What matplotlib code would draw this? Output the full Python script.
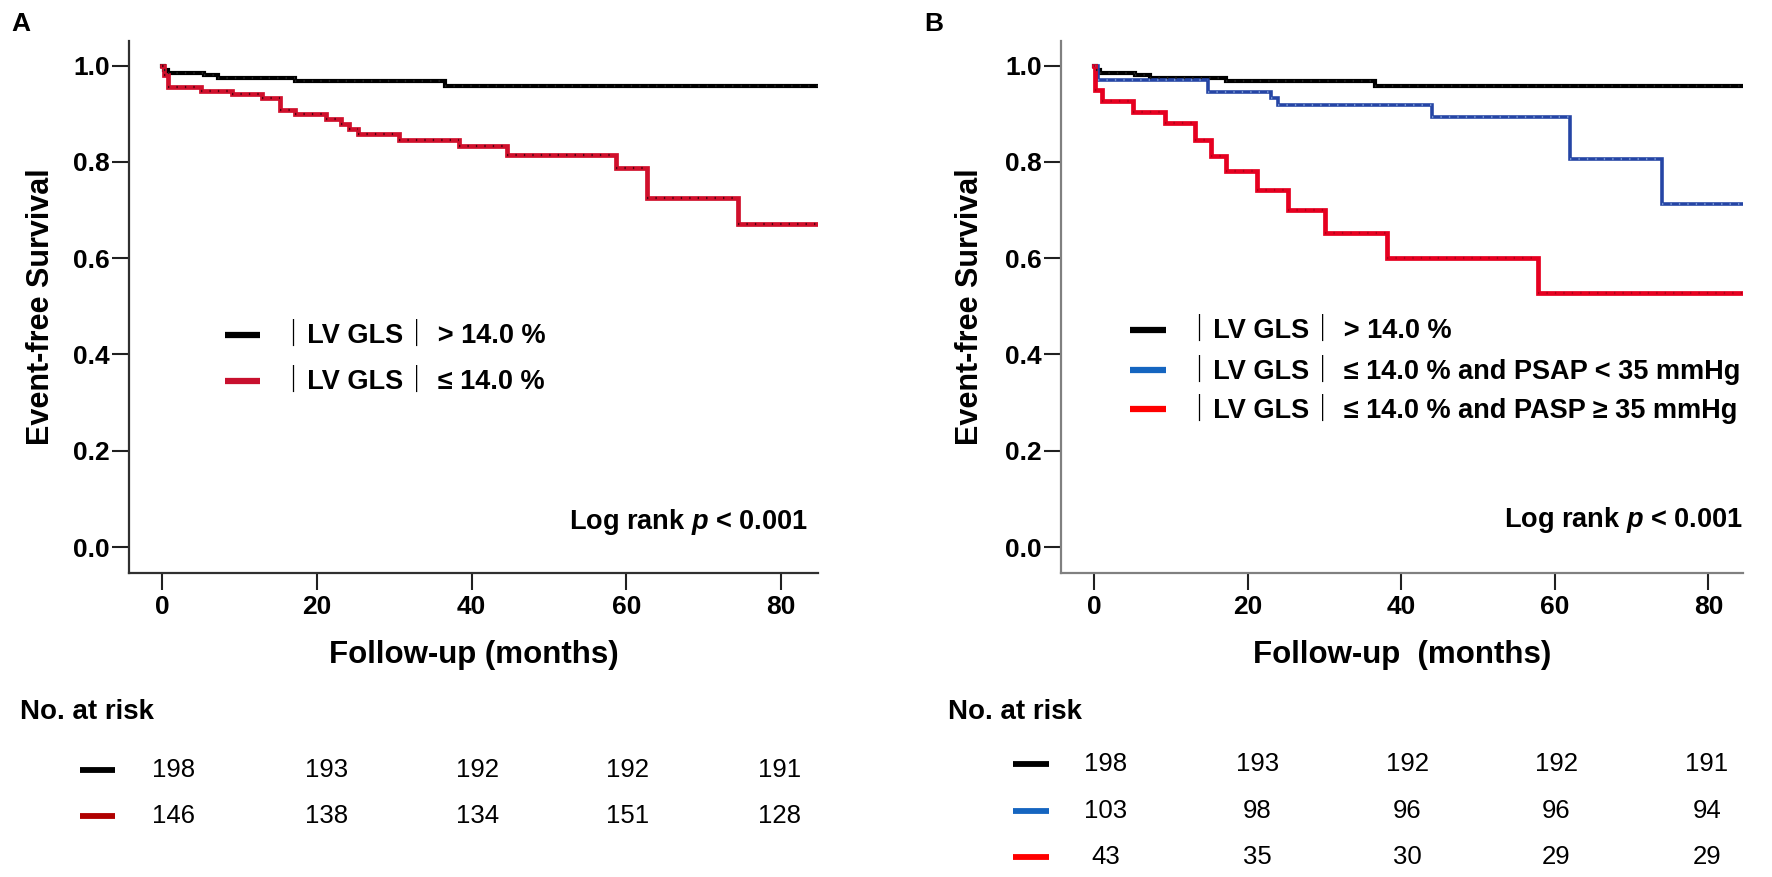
import matplotlib
matplotlib.use("Agg")
import matplotlib.pyplot as plt
from matplotlib import font_manager
from matplotlib.lines import Line2D
import matplotlib.transforms as mtransforms

# ---------------- data ----------------
tick_times = [0, 20, 40, 60, 80]

# Panel A  (months, survival after each step)
black_t = [0, 0.2, 0.8, 5.4, 7.3, 17.2, 36.6]
black_s = [1.0, 0.990, 0.985, 0.981, 0.974, 0.967, 0.958]
redA_t = [0, 0.2, 0.8, 5.1, 9.1, 12.9, 15.3, 17.2, 21.2, 23.1, 24.2, 25.3, 30.6, 38.4, 44.6, 58.7, 62.6, 74.4]
redA_s = [1.0, 0.980, 0.956, 0.948, 0.941, 0.932, 0.908, 0.900, 0.889, 0.879, 0.869, 0.858, 0.846, 0.833, 0.815, 0.788, 0.725, 0.670]
endA = 84.7

# Panel B
blueB_t = [0, 0.5, 14.9, 23.1, 23.9, 44.0, 62.0, 74.0]
blueB_s = [1.0, 0.970, 0.946, 0.932, 0.918, 0.894, 0.805, 0.712]
redB_t = [0, 0.1, 1.0, 5.1, 9.3, 13.2, 15.2, 17.2, 21.2, 25.3, 30.1, 38.1, 57.8]
redB_s = [1.0, 0.949, 0.927, 0.904, 0.880, 0.846, 0.813, 0.781, 0.742, 0.700, 0.652, 0.601, 0.527]
endB = 84.5

riskA = [[198, 193, 192, 192, 191],
         [146, 138, 134, 151, 128]]
riskB = [[198, 193, 192, 192, 191],
         [103, 98, 96, 96, 94],
         [43, 35, 30, 29, 29]]

# ---------------- fonts ----------------
names = {f.name for f in font_manager.fontManager.ttflist}
MAIN = "Liberation Sans" if "Liberation Sans" in names else "DejaVu Sans"
CJK = None
for cand in ["Noto Sans CJK SC", "Noto Sans CJK JP", "Noto Sans CJK TC", "Noto Sans CJK KR"]:
    if cand in names:
        CJK = cand
        break
if CJK is None:
    for n in sorted(names):
        if "CJK" in n:
            CJK = n
            break
BAR = "\uff5c" if CJK else "|"
LEGFAM = [MAIN, CJK, "DejaVu Sans"] if CJK else [MAIN, "DejaVu Sans"]
plt.rcParams["font.family"] = [MAIN, "DejaVu Sans"]
plt.rcParams["mathtext.fontset"] = "custom"
plt.rcParams["mathtext.it"] = MAIN + ":italic:bold"
plt.rcParams["mathtext.rm"] = MAIN + ":bold"

legendA = [BAR + "LV GLS" + BAR + " > 14.0 %", BAR + "LV GLS" + BAR + " \u2264 14.0 %"]
legendB = [BAR + "LV GLS" + BAR + " > 14.0 %",
           BAR + "LV GLS" + BAR + " \u2264 14.0 % and PSAP < 35 mmHg",
           BAR + "LV GLS" + BAR + " \u2264 14.0 % and PASP \u2265 35 mmHg"]

# ---------------- colours ----------------
C_BLACK = "#000000"
C_REDA = "#d0102c"
C_REDB = "#e60020"
C_BLUE = "#2545a5"
C_LEG_REDA = "#c8102e"
C_TAB_REDA = "#b00000"
C_LEG_BLUE = "#1565c0"
C_LEG_REDB = "#ff0000"

W, H = 1772, 877
fig = plt.figure(figsize=(W / 100, H / 100), dpi=100)


def fx(px):
    return px / W


def fy(py):
    return 1 - py / H


def km(ax, t, s, end, color, lw, dotc):
    tt = list(t) + [end]
    ss = list(s) + [s[-1]]
    ax.step(tt, ss, where="post", color=color, lw=lw, solid_joinstyle="miter", zorder=3)
    ax.hlines(s, t, tt[1:], colors=dotc, lw=1.6, linestyles=(0, (0.6, 3.2)), zorder=4)


AX_TOP, AX_BOT = 40.5, 573


def make_axes(left, right, xmin, xmax, spine_col):
    ax = fig.add_axes([fx(left), fy(AX_BOT), fx(right - left), (AX_BOT - AX_TOP) / H])
    ax.set_ylim(-0.054, 1.052)
    ax.set_xlim(xmin, xmax)
    for side in ("top", "right"):
        ax.spines[side].set_visible(False)
    for side in ("left", "bottom"):
        ax.spines[side].set_color(spine_col)
        ax.spines[side].set_linewidth(1.6)
    ax.set_yticks([0, 0.2, 0.4, 0.6, 0.8, 1.0])
    ax.set_yticklabels(["0.0", "0.2", "0.4", "0.6", "0.8", "1.0"])
    ax.set_xticks(tick_times)
    ax.tick_params(axis="both", direction="out", length=12, width=1.5, color="#202020",
                   labelsize=19)
    ax.tick_params(axis="y", pad=2)
    ax.tick_params(axis="x", pad=4)
    for lab in ax.get_xticklabels() + ax.get_yticklabels():
        lab.set_fontweight("bold")
    ax.set_ylabel("Event-free Survival", fontsize=22, fontweight="bold")
    ax.yaxis.label.set_verticalalignment("center")
    return ax


def legend_rows(labels, colors, line_x0, line_x1, text_x, ys, size):
    for lab, c, y in zip(labels, colors, ys):
        fig.add_artist(Line2D([fx(line_x0), fx(line_x1)], [fy(y), fy(y)], color=c, lw=4.5,
                              solid_capstyle="butt", transform=fig.transFigure))
        fig.text(fx(text_x), fy(y), lab, fontsize=size, fontweight="bold", family=LEGFAM,
                 va="center", ha="left")


# ---------------- panel A ----------------
axA = make_axes(129, 818, -4.26, 84.75, "#303030")
km(axA, black_t, black_s, endA, C_BLACK, 3.0, "#202020")
km(axA, redA_t, redA_s, endA, C_REDA, 3.4, "#500010")
axA.set_xlabel("Follow-up (months)", fontsize=22.5, fontweight="bold")
axA.xaxis.set_label_coords(0.5, -0.154)
axA.xaxis.label.set_verticalalignment("center")
axA.yaxis.set_label_coords(-0.128, 0.5)
legend_rows(legendA, [C_BLACK, C_LEG_REDA], 225, 260, 280, [335, 381], 19.5)
fig.text(fx(808), fy(522), "Log rank $p$ < 0.001", ha="right", va="center",
         fontsize=19.5, fontweight="bold")

# ---------------- panel B ----------------
axB = make_axes(1061, 1743, -4.3, 84.5, "#808080")
km(axB, black_t, black_s, endB, C_BLACK, 3.0, "#202020")
km(axB, blueB_t, blueB_s, endB, C_BLUE, 2.6, "#7090d0")
km(axB, redB_t, redB_s, endB, C_REDB, 3.4, "#b00018")
axB.set_xlabel("Follow-up  (months)", fontsize=22.5, fontweight="bold")
axB.xaxis.set_label_coords(0.5, -0.154)
axB.xaxis.label.set_verticalalignment("center")
axB.yaxis.set_label_coords(-0.133, 0.5)
legend_rows(legendB, [C_BLACK, C_LEG_BLUE, C_LEG_REDB], 1130, 1166, 1186, [330, 370, 409], 19.5)
fig.text(fx(1743), fy(520), "Log rank $p$ < 0.001", ha="right", va="center",
         fontsize=19.5, fontweight="bold")

# ---------------- panel letters ----------------
fig.text(fx(11), fy(24), "A", fontsize=19, fontweight="bold", va="center", ha="left")
fig.text(fx(924), fy(24), "B", fontsize=19, fontweight="bold", va="center", ha="left")

# ---------------- at-risk tables ----------------
risk_cols = [1.5, 21.3, 40.8, 60.2, 79.8]


def risk_table(ax, rows, colors, label_x, ys, line_x0, line_x1, label_y):
    fig.text(fx(label_x), fy(label_y), "No. at risk", fontsize=20, fontweight="bold",
             va="center", ha="left")
    trans = mtransforms.blended_transform_factory(ax.transData, fig.transFigure)
    for row, c, y in zip(rows, colors, ys):
        fig.add_artist(Line2D([fx(line_x0), fx(line_x1)], [fy(y), fy(y)], color=c, lw=4.2,
                              solid_capstyle="butt", transform=fig.transFigure))
        for xc, n in zip(risk_cols, row):
            fig.text(xc, fy(y), str(n), transform=trans, fontsize=18.5,
                     va="center", ha="center")


risk_table(axA, riskA, [C_BLACK, C_TAB_REDA], 20, [770, 816], 80, 115, 712)
risk_table(axB, riskB, [C_BLACK, C_LEG_BLUE, C_LEG_REDB], 948, [764, 811, 857], 1013, 1049, 712)

fig.savefig("out.png", dpi=100)
